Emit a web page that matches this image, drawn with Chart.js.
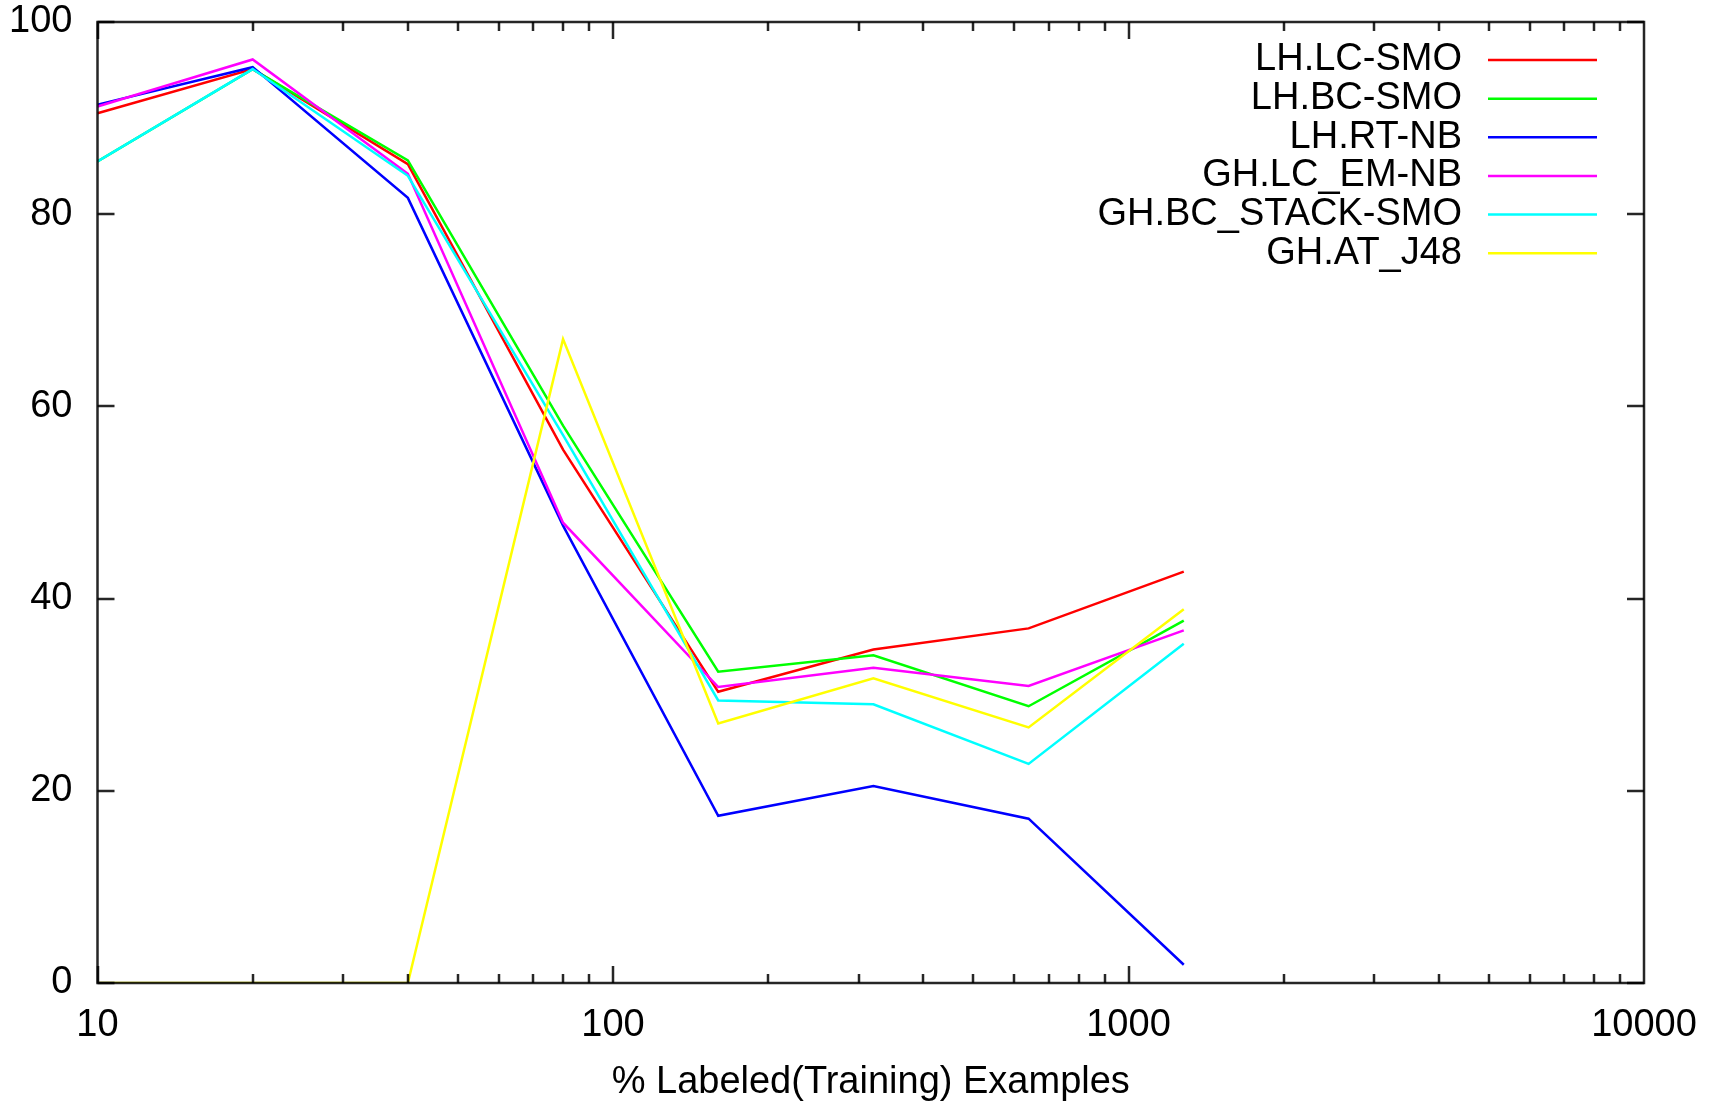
<!DOCTYPE html>
<html lang="en">

<head>
    <meta charset="UTF-8">
    <title>% Labeled(Training) Examples</title>
    <script src="https://cdn.jsdelivr.net/npm/chart.js"></script>
    <style>
        html, body {
            margin: 0;
            padding: 0;
            background: #fff;
        }

        #wrap {
            width: 1718px;
            height: 1103px;
        }
    </style>
</head>

<body>
    <div id="wrap">
        <canvas id="lineChart" width="1718" height="1103"></canvas>
    </div>
    <script>
        // x values (log scale) and the six series
        var xValues = [10, 20, 40, 80, 160, 320, 640, 1280];
        var seriesNames = ['LH.LC-SMO', 'LH.BC-SMO', 'LH.RT-NB', 'GH.LC_EM-NB', 'GH.BC_STACK-SMO', 'GH.AT_J48'];
        var lhLcSmo = [90.5, 95.1, 85.2, 55.5, 30.3, 34.7, 36.9, 42.8];
        var lhBcSmo = [85.5, 95.1, 85.6, 58.0, 32.4, 34.1, 28.8, 37.7];
        var lhRtNb = [91.4, 95.3, 81.7, 47.6, 17.4, 20.5, 17.1, 1.9];
        var ghLcEmNb = [91.2, 96.1, 84.2, 47.9, 30.8, 32.8, 30.9, 36.7];
        var ghBcStackSmo = [85.5, 95.1, 84.0, 57.0, 29.4, 29.0, 22.8, 35.3];
        var ghAtJ48 = [0, 0, 0, 67.0, 27.0, 31.7, 26.6, 38.9];
        var xTickLabels = [10, 100, 1000, 10000];
        var yTickLabels = [0, 20, 40, 60, 80, 100];
        var colors = ['#ff0000', '#00ff00', '#0000ff', '#ff00ff', '#00ffff', '#ffff00'];

        var allSeries = [lhLcSmo, lhBcSmo, lhRtNb, ghLcEmNb, ghBcStackSmo, ghAtJ48];
        var fontFamily = '"Liberation Sans", Arial, sans-serif';

        function toPoints(values) {
            return values.map(function (v, i) {
                return { x: xValues[i], y: v };
            });
        }

        var datasets = allSeries.map(function (values, i) {
            return {
                label: seriesNames[i],
                data: toPoints(values),
                borderColor: colors[i],
                backgroundColor: colors[i],
                borderWidth: 2.5,
                pointRadius: 0,
                tension: 0,
                order: allSeries.length - i   // later series on top, like gnuplot
            };
        });

        // gnuplot-ish frame, inward ticks and the key in the top right corner
        var framePlugin = {
            id: 'frame',
            afterDatasetsDraw: function (chart) {
                var ctx = chart.ctx;
                var a = chart.chartArea;
                var xs = chart.scales.x;
                var ys = chart.scales.y;
                ctx.save();
                ctx.strokeStyle = 'rgba(0,0,0,0.85)';
                ctx.lineWidth = 2.5;
                ctx.beginPath();
                // y ticks, left and right
                yTickLabels.forEach(function (v) {
                    var py = Math.round(ys.getPixelForValue(v));
                    ctx.moveTo(a.left, py); ctx.lineTo(a.left + 17, py);
                    ctx.moveTo(a.right, py); ctx.lineTo(a.right - 17, py);
                });
                // x ticks, bottom and top, major + minor
                for (var d = 10; d < 10000; d *= 10) {
                    for (var m = 1; m <= 9; m++) {
                        var px = Math.round(xs.getPixelForValue(d * m));
                        var len = m === 1 ? 17 : 9;
                        ctx.moveTo(px, a.bottom); ctx.lineTo(px, a.bottom - len);
                        ctx.moveTo(px, a.top); ctx.lineTo(px, a.top + len);
                    }
                }
                ctx.stroke();
                ctx.strokeRect(a.left, a.top, a.right - a.left, a.bottom - a.top);

                // key
                ctx.font = '38px ' + fontFamily;
                ctx.fillStyle = '#000';
                ctx.textAlign = 'right';
                ctx.textBaseline = 'middle';
                chart.data.datasets.forEach(function (ds, i) {
                    var y = 60 + i * 38.65;
                    ctx.fillText(ds.label, 1462, y);
                    ctx.strokeStyle = ds.borderColor;
                    ctx.lineWidth = 2.5;
                    ctx.beginPath();
                    ctx.moveTo(1488, y);
                    ctx.lineTo(1597, y);
                    ctx.stroke();
                });
                ctx.restore();
            }
        };

        new Chart(document.getElementById('lineChart').getContext('2d'), {
            type: 'line',
            data: { datasets: datasets },
            options: {
                responsive: false,
                animation: false,
                layout: {
                    padding: { top: 22, right: 74, left: 0, bottom: 0 }
                },
                plugins: {
                    legend: { display: false },
                    tooltip: { enabled: false }
                },
                scales: {
                    x: {
                        type: 'logarithmic',
                        min: 10,
                        max: 10000,
                        afterFit: function (scale) {
                            scale.height = 120;
                            scale.paddingLeft = 0;
                            scale.paddingRight = 0;
                        },
                        grid: { display: false, drawTicks: false },
                        border: { display: false },
                        ticks: {
                            autoSkip: false,
                            maxRotation: 0,
                            padding: 20,
                            color: '#000',
                            font: { family: fontFamily, size: 38 },
                            callback: function (value) {
                                return xTickLabels.indexOf(value) >= 0 ? String(value) : null;
                            }
                        },
                        title: {
                            display: true,
                            text: '% Labeled(Training) Examples',
                            color: '#000',
                            font: { family: fontFamily, size: 38 },
                            padding: { top: 0, bottom: -2 }
                        }
                    },
                    y: {
                        min: 0,
                        max: 100,
                        afterFit: function (scale) {
                            scale.width = 97.5;
                            scale.paddingTop = 0;
                            scale.paddingBottom = 0;
                        },
                        grid: { display: false, drawTicks: false },
                        border: { display: false },
                        ticks: {
                            stepSize: 20,
                            padding: 25,
                            color: '#000',
                            font: { family: fontFamily, size: 38 }
                        }
                    }
                }
            },
            plugins: [framePlugin]
        });
    </script>
</body>

</html>
